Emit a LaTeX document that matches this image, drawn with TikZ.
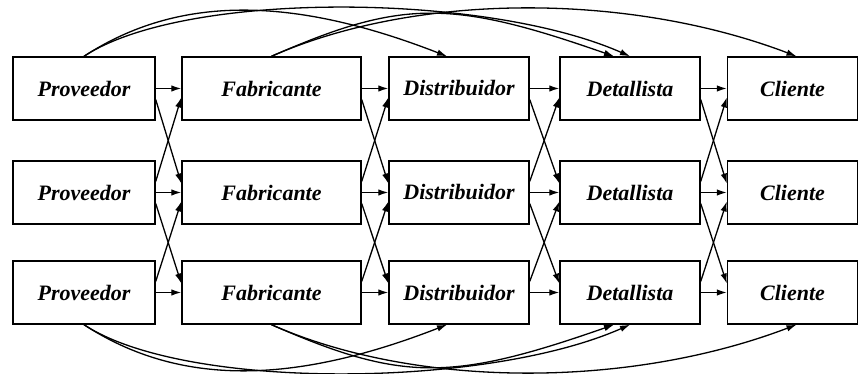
\documentclass[tikz,border=0pt]{standalone}
\usepackage{fontspec}
\setmainfont{Liberation Serif}
\usetikzlibrary{arrows.meta}
\begin{document}
\begin{tikzpicture}[x=1pt,y=1pt,
  box/.style={draw, line width=1.4pt, inner sep=0pt, minimum height=63pt,
    font=\fontsize{22}{26}\selectfont\bfseries\itshape},
  arr/.style={line width=1.3pt, -{Latex[length=10pt,width=6.5pt]}},
  link/.style={line width=1.3pt, -{Latex[length=10pt,width=6.5pt]}}]
\useasboundingbox (0,0) rectangle (859,374);

% three parallel chains of five stages
\foreach \r/\y in {1/285.5, 2/181.5, 3/81.5}{
  \node[box, minimum width=142pt] (P\r) at (84,\y)    {Proveedor};
  \node[box, minimum width=179pt] (F\r) at (271.5,\y) {Fabricante};
  \node[box, minimum width=140pt] (D\r) at (459,\y)   {Distribuidor};
  \node[box, minimum width=140pt] (T\r) at (630,\y)   {Detallista};
  \node[box, minimum width=130pt] (C\r) at (792.5,\y) {Cliente};
}

% links between neighbouring stages: straight ahead and crossing rows
\foreach \a/\b in {P/F, F/D, D/T, T/C}{
  \foreach \r in {1,2,3}{
    \draw[arr] (\a\r.east) -- (\b\r.west);
  }
  \draw[arr] ([yshift=-11pt]\a1.east) -- ([yshift=9pt]\b2.west);
  \draw[arr] ([yshift=11pt]\a2.east) -- ([yshift=-9pt]\b1.west);
  \draw[arr] ([yshift=-11pt]\a2.east) -- ([yshift=9pt]\b3.west);
  \draw[arr] ([yshift=11pt]\a3.east) -- ([yshift=-9pt]\b2.west);
}

% links that skip stages, above the top chain
\draw[link] (P1.north) .. controls +(95,62) and +(-154,60) .. ([xshift=-12pt]D1.north);
\draw[link] (P1.north) .. controls +(100,66) and +(-145,64) .. (T1.north);
\draw[link] (F1.north) .. controls +(130,57) and +(-163,57) .. ([xshift=-16pt]T1.north);
\draw[link] (F1.north) .. controls +(145,64) and +(-168,64) .. ([xshift=4pt]C1.north);

% and below the bottom chain
\draw[link] (P3.south) .. controls +(95,-62) and +(-154,-60) .. ([xshift=-12pt]D3.south);
\draw[link] (P3.south) .. controls +(100,-66) and +(-145,-64) .. (T3.south);
\draw[link] (F3.south) .. controls +(130,-57) and +(-163,-57) .. ([xshift=-16pt]T3.south);
\draw[link] (F3.south) .. controls +(145,-64) and +(-168,-64) .. ([xshift=4pt]C3.south);
\end{tikzpicture}
\end{document}
